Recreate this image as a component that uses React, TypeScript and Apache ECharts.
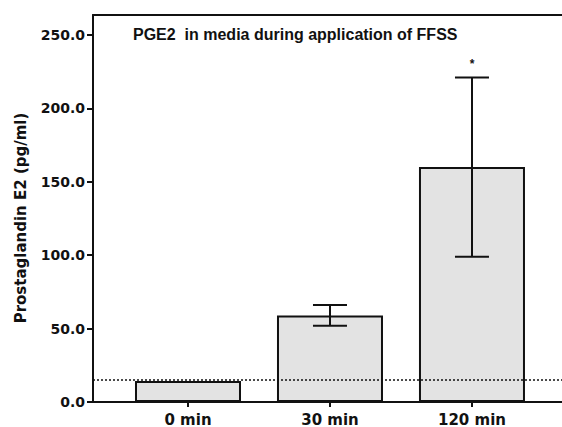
import React, { useEffect, useRef } from "react";
import * as echarts from "echarts";

const categories = ["0 min", "30 min", "120 min"];
const meanValues = [14.3, 59, 160];
const errorLow = [14.3, 52, 99];
const errorHigh = [14.3, 66, 221];
const significance = ["", "", "*"];
const baselineValue = 15.2;
const yTicks = [0, 50, 100, 150, 200, 250];
const xTicks = [0, 1, 2];

const FONT = "DejaVu Sans";

export default function App() {
  const ref = useRef<HTMLDivElement>(null);
  useEffect(() => {
    if (!ref.current) return;
    const chart = echarts.init(ref.current, undefined, { renderer: "svg" });
    const barData = meanValues.map((v, i) => [i, v]);
    const errData = meanValues.map((v, i) => [i, errorLow[i], errorHigh[i], i]);
    chart.setOption({
      animation: false,
      backgroundColor: "#ffffff",
      grid: { left: 93, right: 0, top: 15, bottom: 25, containLabel: false },
      graphic: [
        {
          type: "text",
          left: 133,
          top: 26,
          style: {
            text: "PGE2  in media during application of FFSS",
            font: "bold 16px 'Liberation Sans', Arial, sans-serif",
            fill: "#111",
          },
        },
      ],
      xAxis: [
        {
          type: "value",
          min: -0.669,
          max: 2.634,
          splitLine: { show: false },
          axisLine: { show: true, onZero: false, lineStyle: { color: "#111", width: 2 } },
          axisTick: {
            show: true,
            customValues: xTicks,
            length: 5,
            lineStyle: { color: "#111", width: 2 },
          },
          axisLabel: {
            customValues: xTicks,
            margin: 10,
            formatter: (v: number) => categories[Math.round(v)] ?? "",
            color: "#111",
            fontFamily: FONT,
            fontWeight: "bold",
            fontSize: 15,
          },
        },
        {
          type: "value",
          position: "top",
          min: -0.669,
          max: 2.634,
          splitLine: { show: false },
          axisLine: { show: true, onZero: false, lineStyle: { color: "#111", width: 2 } },
          axisTick: { show: false },
          axisLabel: { show: false },
        },
      ],
      yAxis: {
        type: "value",
        min: 0,
        max: 263.6,
        name: "Prostaglandin E2 (pg/ml)",
        nameLocation: "middle",
        nameGap: 65,
        nameTextStyle: {
          fontFamily: FONT,
          fontWeight: "bold",
          fontSize: 15,
          color: "#111",
          padding: [0, 19, 0, 0],
        },
        splitLine: { show: false },
        axisLine: { show: true, onZero: false, lineStyle: { color: "#111", width: 2 } },
        axisTick: {
          show: true,
          customValues: yTicks,
          length: 6,
          lineStyle: { color: "#111", width: 2 },
        },
        axisLabel: {
          customValues: yTicks,
          margin: 8,
          formatter: (v: number) => v.toFixed(1),
          color: "#111",
          fontFamily: FONT,
          fontWeight: "bold",
          fontSize: 14,
        },
      },
      series: [
        {
          type: "bar",
          xAxisIndex: 0,
          data: barData,
          barWidth: 106,
          itemStyle: { color: "#e3e3e3", borderColor: "#111", borderWidth: 2 },
          markLine: {
            silent: true,
            symbol: "none",
            label: { show: false },
            lineStyle: { color: "#111", type: [2, 2], width: 1.5 },
            data: [{ yAxis: baselineValue }],
          },
          z: 2,
        },
        {
          type: "custom",
          xAxisIndex: 0,
          data: errData,
          z: 5,
          renderItem: (params: any, api: any) => {
            const i = api.value(0);
            const lo = api.coord([i, api.value(1)]);
            const hi = api.coord([i, api.value(2)]);
            const idx = api.value(3);
            const half = 17;
            const children: any[] = [];
            if (api.value(2) !== api.value(1)) {
              const st = { stroke: "#111", lineWidth: 2 };
              children.push(
                { type: "line", shape: { x1: lo[0], y1: lo[1], x2: hi[0], y2: hi[1] }, style: st },
                { type: "line", shape: { x1: hi[0] - half, y1: hi[1], x2: hi[0] + half, y2: hi[1] }, style: st },
                { type: "line", shape: { x1: lo[0] - half, y1: lo[1], x2: lo[0] + half, y2: lo[1] }, style: st }
              );
            }
            const s = significance[idx];
            if (s) {
              children.push({
                type: "text",
                x: hi[0],
                y: hi[1] - 14,
                style: {
                  text: s,
                  font: "bold 12px 'Liberation Sans', Arial, sans-serif",
                  fill: "#111",
                  align: "center",
                  verticalAlign: "middle",
                },
              });
            }
            return { type: "group", children };
          },
        },
      ],
    });
    return () => chart.dispose();
  }, []);
  return <div ref={ref} style={{ width: 562, height: 427, position: "absolute", left: 0, top: 0 }} />;
}
